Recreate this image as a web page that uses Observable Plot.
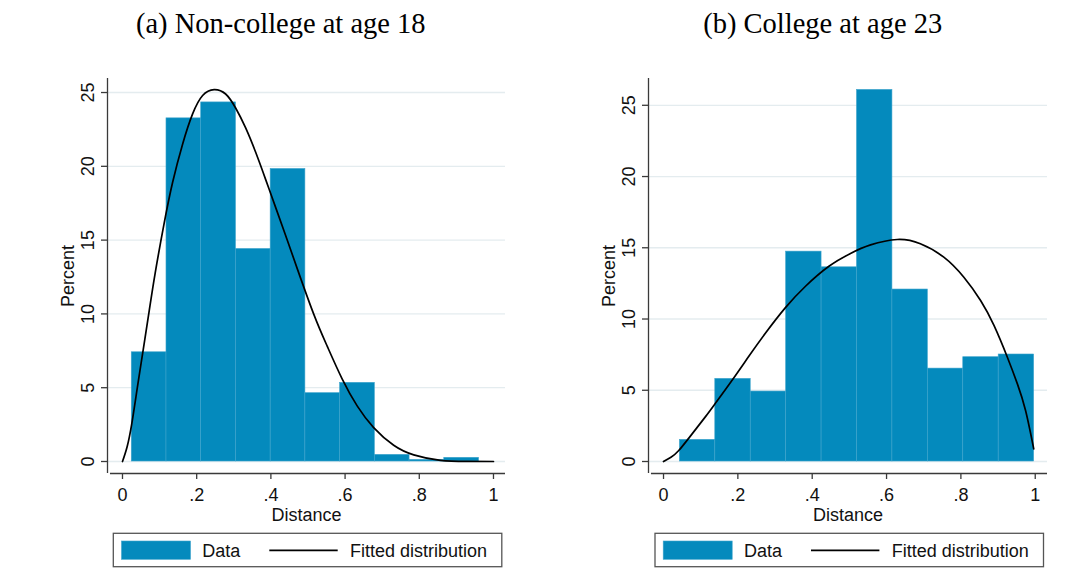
<!DOCTYPE html>
<html>
<head>
<meta charset="utf-8">
<script src="https://cdn.jsdelivr.net/npm/d3@7"></script>
<script src="https://cdn.jsdelivr.net/npm/@observablehq/plot@0.6"></script>
<style>
  html, body { margin: 0; padding: 0; background: #fff; }
  #page { position: relative; width: 1079px; height: 584px; overflow: hidden; background: #fff; }
  #page > svg, #page > figure { position: absolute; margin: 0; }
</style>
</head>
<body>
<div id="page"></div>
<script>
// ---- Panel (a): Non-college at age 18 ----
const titleA = "(a) Non-college at age 18";
const binEdgesA = [0.025, 0.1186, 0.2122, 0.3058, 0.3994, 0.493, 0.5866, 0.6802, 0.7738, 0.8674, 0.961];
const percentA = [7.40, 23.25, 24.33, 14.40, 19.82, 4.63, 5.33, 0.45, 0.11, 0.25];
const fitXA = [0, 0.0125, 0.025, 0.040, 0.056, 0.072, 0.088, 0.112, 0.135, 0.162, 0.189, 0.216, 0.247, 0.278, 0.305, 0.332, 0.359, 0.386, 0.413, 0.44, 0.472, 0.516, 0.552, 0.592, 0.633, 0.677, 0.731, 0.785, 0.857, 0.93, 1.0];
const fitYA = [0, 1.0, 2.55, 5.0, 7.6, 10.2, 12.75, 16.1, 18.9, 21.5, 23.55, 24.8, 25.2, 24.9, 23.95, 22.6, 20.95, 19.1, 17.2, 15.3, 13.0, 9.95, 7.8, 5.6, 3.75, 2.3, 1.1, 0.45, 0.08, 0.01, 0];

// ---- Panel (b): College at age 23 ----
const titleB = "(b) College at age 23";
const binEdgesB = [0.044, 0.1393, 0.2346, 0.3299, 0.4252, 0.5205, 0.6158, 0.7111, 0.8064, 0.9017, 0.997];
const percentB = [1.52, 5.80, 4.91, 14.73, 13.63, 26.08, 12.07, 6.52, 7.32, 7.51];
const fitXB = [0, 0.02, 0.041, 0.077, 0.113, 0.140, 0.185, 0.230, 0.274, 0.328, 0.382, 0.445, 0.503, 0.557, 0.629, 0.691, 0.754, 0.808, 0.853, 0.889, 0.925, 0.952, 0.974, 0.996];
const fitYB = [0, 0.3, 0.77, 1.94, 3.15, 4.1, 5.72, 7.4, 9.0, 10.8, 12.3, 13.7, 14.6, 15.2, 15.58, 15.28, 14.34, 12.93, 11.3, 9.55, 7.32, 5.45, 3.58, 0.89];

// ---- Shared axes and labels ----
const xTicks = [0, 0.2, 0.4, 0.6, 0.8, 1];
const xTickLabels = ["0", ".2", ".4", ".6", ".8", "1"];
const yTicks = [0, 5, 10, 15, 20, 25];
const xLabel = "Distance";
const yLabel = "Percent";
const legendLabels = ["Data", "Fitted distribution"];

const barColor = "#048abd";
const barEdge = "#3ea4cc";
const gridColor = "#e4ecef";
const axisColor = "#3a3a3a";
const sans = "'Liberation Sans', Arial, sans-serif";
const serif = "'Liberation Serif', 'Times New Roman', serif";

function panel({edges, pct, fitX, fitY, xDomain, yDomain, width, marginLeft, marginRight}) {
  const bins = pct.map((p, i) => ({x1: edges[i], x2: edges[i + 1], y: p}));
  const fit = fitX.map((x, i) => ({x, y: fitY[i]}));
  const labelOf = new Map(xTicks.map((t, i) => [t, xTickLabels[i]]));
  return Plot.plot({
    width,
    height: 470,
    marginLeft,
    marginRight,
    marginTop: 18,
    marginBottom: 57,
    x: {domain: xDomain},
    y: {domain: yDomain},
    style: {fontFamily: sans, fontSize: "18px", color: "#111", background: "transparent", overflow: "visible"},
    marks: [
      Plot.gridY(yTicks, {stroke: gridColor, strokeOpacity: 1, strokeWidth: 1.3}),
      Plot.rectY(bins, {x1: "x1", x2: "x2", y: "y", fill: barColor, stroke: barEdge, strokeWidth: 0.6}),
      Plot.line(fit, {x: "x", y: "y", stroke: "#000", strokeWidth: 1.7, curve: "natural"}),
      Plot.ruleX([xDomain[0]], {y1: yDomain[0], y2: yDomain[1], stroke: axisColor, strokeWidth: 1.3}),
      Plot.ruleY([yDomain[0]], {x1: xDomain[0] + 0.008, x2: xDomain[1], stroke: axisColor, strokeWidth: 1.3}),
      Plot.axisX(xTicks, {tickFormat: (d) => labelOf.get(d), tickSize: 6, tickPadding: 9, stroke: axisColor, strokeWidth: 1.3, fontSize: 18, label: null}),
      Plot.axisY(yTicks, {tickSize: 6, tickPadding: 8, tickRotate: -90, stroke: axisColor, strokeWidth: 1.3, fontSize: 18, label: null}),
      Plot.text([yLabel], {frameAnchor: "left", rotate: -90, dx: -34, textAnchor: "middle", lineAnchor: "bottom", fontSize: 18, fill: "#111"}),
      Plot.text([xLabel], {frameAnchor: "bottom", dy: 47, textAnchor: "middle", lineAnchor: "bottom", fontSize: 18, fill: "#111"})
    ]
  });
}

const page = document.getElementById("page");

const chartA = panel({
  edges: binEdgesA, pct: percentA, fitX: fitXA, fitY: fitYA,
  xDomain: [-0.0404, 1.0324], yDomain: [-0.813, 25.95],
  width: 540, marginLeft: 107, marginRight: 35
});
chartA.style.left = "0px";
chartA.style.top = "60px";
page.appendChild(chartA);

const chartB = panel({
  edges: binEdgesB, pct: percentB, fitX: fitXB, fitY: fitYB,
  xDomain: [-0.0404, 1.033], yDomain: [-0.842, 26.88],
  width: 539, marginLeft: 108, marginRight: 32
});
chartB.style.left = "540px";
chartB.style.top = "60px";
page.appendChild(chartB);

// Titles and legends
const overlay = d3.create("svg")
  .attr("width", 1079).attr("height", 584)
  .style("left", "0px").style("top", "0px")
  .style("pointer-events", "none");

[[titleA, 280.8], [titleB, 822.7]].forEach(([t, cx]) => {
  overlay.append("text")
    .attr("x", cx).attr("y", 32.7)
    .attr("text-anchor", "middle")
    .attr("font-family", serif)
    .attr("font-size", 28.5)
    .attr("fill", "#000")
    .text(t);
});

function legend(left) {
  const g = overlay.append("g").attr("transform", `translate(${left},533.3)`);
  g.append("rect").attr("x", 0).attr("y", 0).attr("width", 388.5).attr("height", 33.4)
    .attr("fill", "#fff").attr("stroke", "#555").attr("stroke-width", 1.3);
  g.append("rect").attr("x", 8.2).attr("y", 7.7).attr("width", 69).attr("height", 18.3)
    .attr("fill", barColor).attr("stroke", barEdge).attr("stroke-width", 0.6);
  g.append("text").attr("x", 89).attr("y", 23.4)
    .attr("font-family", sans).attr("font-size", 18).attr("fill", "#111").text(legendLabels[0]);
  g.append("line").attr("x1", 156).attr("x2", 224.4).attr("y1", 17).attr("y2", 17)
    .attr("stroke", "#000").attr("stroke-width", 1.7);
  g.append("text").attr("x", 236.7).attr("y", 23.4)
    .attr("font-family", sans).attr("font-size", 18).attr("fill", "#111").text(legendLabels[1]);
}
legend(113.3);
legend(655);

page.appendChild(overlay.node());
</script>
</body>
</html>
